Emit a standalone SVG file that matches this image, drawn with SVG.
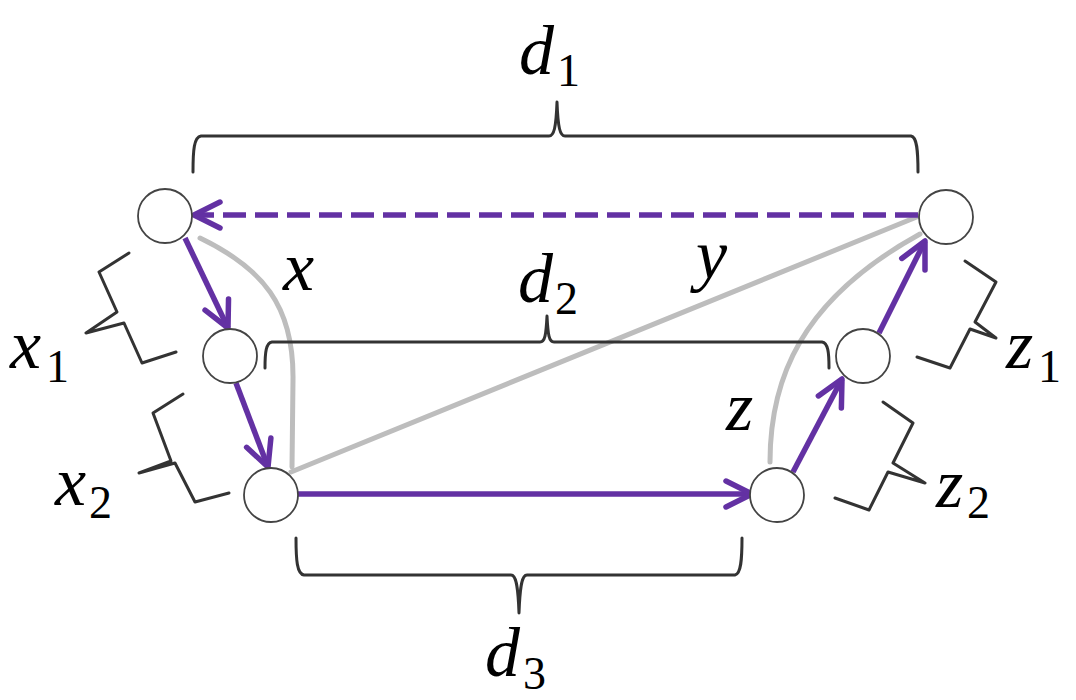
<svg xmlns="http://www.w3.org/2000/svg" width="1076" height="700" viewBox="0 0 1076 700">
<style>
.node{fill:#fff;stroke:#444;stroke-width:1.8}
.arr{fill:none;stroke:#6331a3;stroke-width:5.5}
.dash{stroke-dasharray:23 9}
.gray{fill:none;stroke:#bdbdbd;stroke-width:5;stroke-linecap:round}
.brace{fill:none;stroke:#333;stroke-width:3;stroke-linejoin:round;stroke-linecap:round}
.lbl{font-family:"Liberation Serif","DejaVu Serif",serif;font-style:italic;font-size:70px;fill:#000}
.sub{font-family:"Liberation Serif","DejaVu Serif",serif;font-size:46px;fill:#000}
</style>
<defs>
<marker id="ah" markerUnits="userSpaceOnUse" viewBox="-32 -18 36 36" markerWidth="36" markerHeight="36" refX="0" refY="0" orient="auto" overflow="visible">
<path d="M-26,-13 L0,0 L-26,13" fill="none" stroke="#6331a3" stroke-width="5.5" stroke-linecap="round" stroke-linejoin="round"/>
</marker>
</defs>
<g id="gray-paths">
<path class="gray" d="M200,238 C262,268 294,305 293,380 L292,467"/>
<path class="gray" d="M291,472 L924,214"/>
<path class="gray" d="M770,462 C770,380 800,300 920,234"/>
</g>
<g id="braces">
<path class="brace" d="M193,172 C193,150 194,137 201,136 L549,136 C554,136 556,128 557,102 C558,128 560,136 565,136 L911,136 C917,137 918,150 918,172"/>
<path class="brace" d="M265,368 C265,352 266,343 272,342 L540,342 C545,342 546,335 547,316 C548,335 549,342 554,342 L822,342 C828,343 829,352 829,368"/>
<path class="brace" d="M296,538 C296,560 297,574 304,575 L511,575 C516,575 518,585 519,613 C520,585 522,575 527,575 L735,575 C741,574 742,560 742,538"/>
<path class="brace" d="M129,253 L99,272 L117,312 L86,333 L124,323 L142,363 L176,352"/>
<path class="brace" d="M183,394 L153,413 L171,461 L139,473 L175,463 L195,502 L229,493"/>
<path class="brace" d="M965,261 L996,282 L975,322 L996,338 L970,329 L950,368 L917,357"/>
<path class="brace" d="M883,402 L913,423 L893,463 L925,483 L888,472 L869,510 L835,498"/>
</g>
<g id="connectors">
<path class="arr dash" d="M918,215 L194,215" marker-end="url(#ah)"/>
<path class="arr" d="M185,238 L228,328" marker-end="url(#ah)"/>
<path class="arr" d="M236,383 L268,467" marker-end="url(#ah)"/>
<path class="arr" d="M298,494 L752,494" marker-end="url(#ah)"/>
<path class="arr" d="M793,472 L842,379" marker-end="url(#ah)"/>
<path class="arr" d="M879,333 L925,241" marker-end="url(#ah)"/>
</g>
<g id="node-a"><circle class="node" cx="165" cy="216" r="27"/></g>
<g id="node-b"><circle class="node" cx="230" cy="356" r="27"/></g>
<g id="node-c"><circle class="node" cx="271" cy="495" r="27"/></g>
<g id="node-d"><circle class="node" cx="777" cy="495" r="27"/></g>
<g id="node-e"><circle class="node" cx="863" cy="356" r="27"/></g>
<g id="node-f"><circle class="node" cx="946" cy="217" r="27"/></g>
<g id="labels">
<text class="lbl" x="519" y="74">d</text><text class="sub" x="557" y="86">1</text>
<text class="lbl" x="518" y="302">d</text><text class="sub" x="555" y="314">2</text>
<text class="lbl" x="485" y="676">d</text><text class="sub" x="523" y="689">3</text>
<text class="lbl" x="283" y="290">x</text>
<text class="lbl" x="696" y="278">y</text>
<text class="lbl" x="726" y="430">z</text>
<text class="lbl" x="10" y="368">x</text><text class="sub" x="46" y="382">1</text>
<text class="lbl" x="55" y="505">x</text><text class="sub" x="89" y="518">2</text>
<text class="lbl" x="1006" y="368">z</text><text class="sub" x="1038" y="382">1</text>
<text class="lbl" x="936" y="507">z</text><text class="sub" x="967" y="518">2</text>
</g>
</svg>
